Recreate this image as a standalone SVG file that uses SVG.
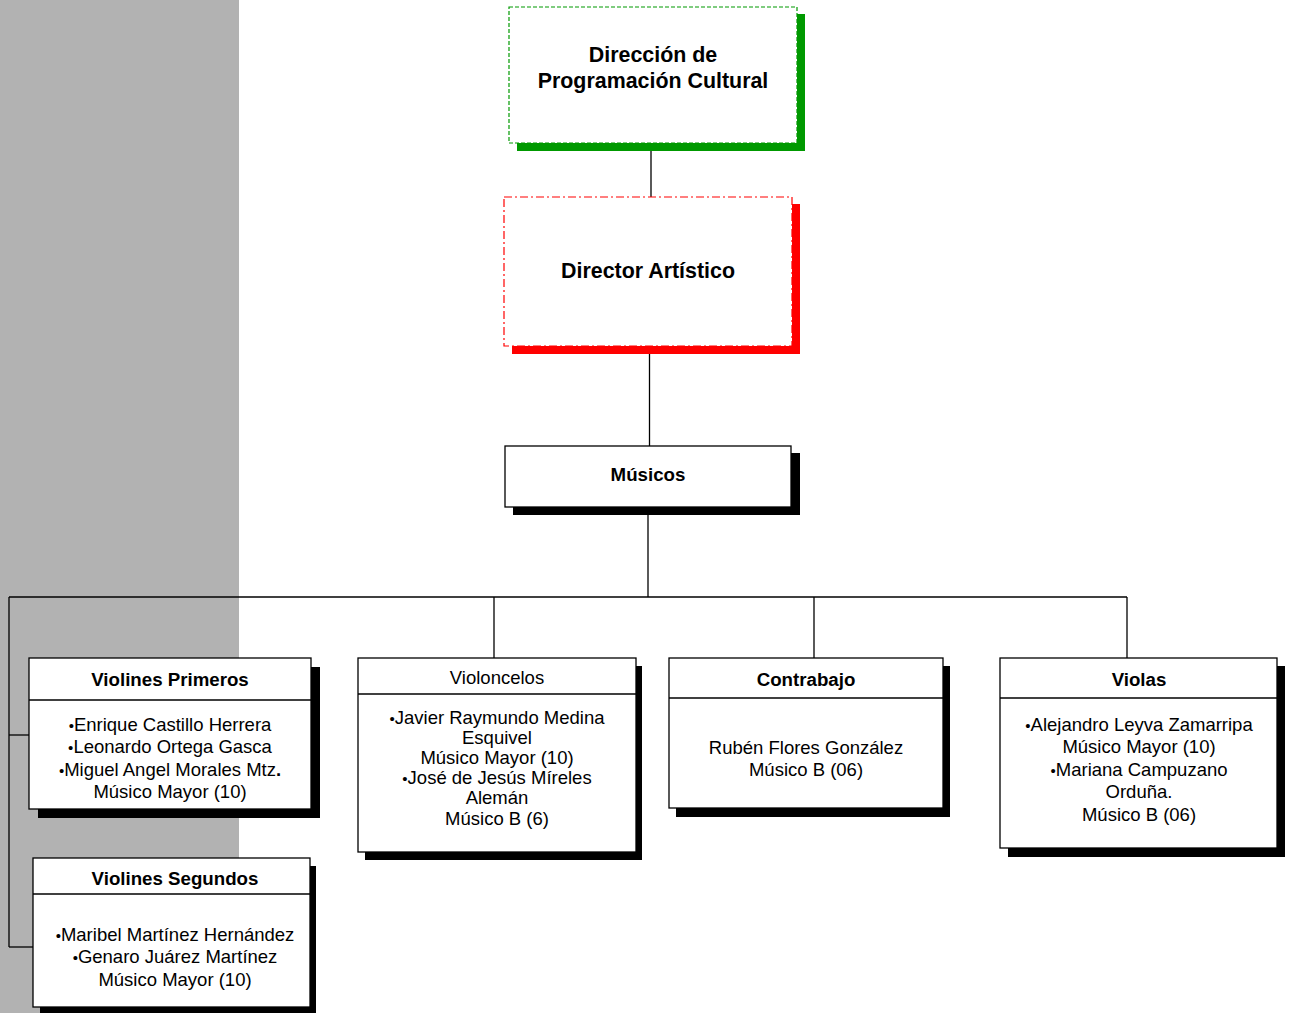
<svg xmlns="http://www.w3.org/2000/svg" width="1292" height="1013" viewBox="0 0 1292 1013">
<style>
  .bg{fill:#b2b2b2}
  .box{fill:#fff;stroke:#000;stroke-width:1.3}
  .shadow{fill:#000}
  .div{stroke:#000;stroke-width:1.3}
  .conn{stroke:#000;stroke-width:1.3;fill:none}
  .t{font-family:"Liberation Sans",Arial,sans-serif;text-anchor:middle;fill:#000}
  .title{font-size:21.4px;font-weight:bold}
  .hb{font-size:18.7px;font-weight:bold}
  .hr{font-size:18.5px}
  .body{font-size:18.5px}
  .bul{font-size:15px}
</style>
<rect class="bg" x="0" y="0" width="239" height="1013"/>

<g id="connectors">
  <line class="conn" x1="651" y1="150" x2="651" y2="197"/>
  <line class="conn" x1="649.5" y1="354" x2="649.5" y2="446"/>
  <line class="conn" x1="648" y1="515" x2="648" y2="597"/>
  <line class="conn" x1="9" y1="597" x2="1127" y2="597"/>
  <line class="conn" x1="494" y1="597" x2="494" y2="658"/>
  <line class="conn" x1="814" y1="597" x2="814" y2="658"/>
  <line class="conn" x1="1127" y1="597" x2="1127" y2="658"/>
  <line class="conn" x1="9" y1="597" x2="9" y2="947" stroke-width="2"/>
  <line class="conn" x1="9" y1="735" x2="29" y2="735" stroke-width="2"/>
  <line class="conn" x1="9" y1="947" x2="33" y2="947" stroke-width="2"/>
</g>

<g id="direccion">
  <rect x="517" y="14" width="288" height="137" fill="#009900"/>
  <rect x="509" y="7" width="288" height="136" fill="#fff" stroke="#009900" stroke-width="1.2" stroke-dasharray="4,2"/>
  <text class="t title" x="653" y="62">Dirección de</text>
  <text class="t title" x="653" y="88">Programación Cultural</text>
</g>

<g id="director">
  <rect x="512" y="204" width="288" height="150" fill="#ff0000"/>
  <rect x="504" y="197" width="288" height="149" fill="#fff" stroke="#ff0000" stroke-width="1.2" stroke-dasharray="8,3,2,3"/>
  <text class="t title" x="648" y="278">Director Artístico</text>
</g>

<g id="musicos">
  <rect class="shadow" x="513" y="453" width="287" height="62"/>
  <rect class="box" x="505" y="446" width="286" height="61"/>
  <text class="t hb" x="648" y="481">Músicos</text>
</g>

<g id="violines-primeros">
  <rect class="shadow" x="38" y="667" width="282" height="151"/>
  <rect class="box" x="29" y="658" width="282" height="151"/>
  <line class="div" x1="29" y1="700" x2="311" y2="700"/>
  <text class="t hb" x="170" y="686">Violines Primeros</text>
  <text class="t body" x="170" y="730.5"><tspan class="bul">•</tspan>Enrique Castillo Herrera</text>
  <text class="t body" x="170" y="753"><tspan class="bul">•</tspan>Leonardo Ortega Gasca</text>
  <text class="t body" x="170" y="775.5"><tspan class="bul">•</tspan>Miguel Angel Morales Mtz<tspan font-weight="bold">.</tspan></text>
  <text class="t body" x="170" y="798">Músico Mayor (10)</text>
</g>

<g id="violines-segundos">
  <rect class="shadow" x="40" y="866" width="276" height="149"/>
  <rect class="box" x="33" y="858" width="277" height="149"/>
  <line class="div" x1="33" y1="894" x2="310" y2="894"/>
  <text class="t hb" x="175" y="885">Violines Segundos</text>
  <text class="t body" x="175" y="940.5"><tspan class="bul">•</tspan>Maribel Martínez Hernández</text>
  <text class="t body" x="175" y="963"><tspan class="bul">•</tspan>Genaro Juárez Martínez</text>
  <text class="t body" x="175" y="985.5">Músico Mayor (10)</text>
</g>

<g id="violoncelos">
  <rect class="shadow" x="365" y="666" width="277" height="194"/>
  <rect class="box" x="358" y="658" width="278" height="194"/>
  <line class="div" x1="358" y1="694" x2="636" y2="694"/>
  <text class="t hr" x="497" y="684">Violoncelos</text>
  <text class="t body" x="497" y="723.5"><tspan class="bul">•</tspan>Javier Raymundo Medina</text>
  <text class="t body" x="497" y="743.7">Esquivel</text>
  <text class="t body" x="497" y="763.9">Músico Mayor (10)</text>
  <text class="t body" x="497" y="784.1"><tspan class="bul">•</tspan>José de Jesús Míreles</text>
  <text class="t body" x="497" y="804.3">Alemán</text>
  <text class="t body" x="497" y="824.5">Músico B (6)</text>
</g>

<g id="contrabajo">
  <rect class="shadow" x="676" y="666" width="274" height="151"/>
  <rect class="box" x="669" y="658" width="274" height="150"/>
  <line class="div" x1="669" y1="698" x2="943" y2="698"/>
  <text class="t hb" x="806" y="686">Contrabajo</text>
  <text class="t body" x="806" y="753.5">Rubén Flores González</text>
  <text class="t body" x="806" y="776">Músico B (06)</text>
</g>

<g id="violas">
  <rect class="shadow" x="1008" y="666" width="277" height="191"/>
  <rect class="box" x="1000" y="658" width="277" height="190"/>
  <line class="div" x1="1000" y1="698" x2="1277" y2="698"/>
  <text class="t hb" x="1139" y="686">Violas</text>
  <text class="t body" x="1139" y="730.5"><tspan class="bul">•</tspan>Alejandro Leyva Zamarripa</text>
  <text class="t body" x="1139" y="753">Músico Mayor (10)</text>
  <text class="t body" x="1139" y="775.5"><tspan class="bul">•</tspan>Mariana Campuzano</text>
  <text class="t body" x="1139" y="798">Orduña.</text>
  <text class="t body" x="1139" y="820.5">Músico B (06)</text>
</g>
</svg>
